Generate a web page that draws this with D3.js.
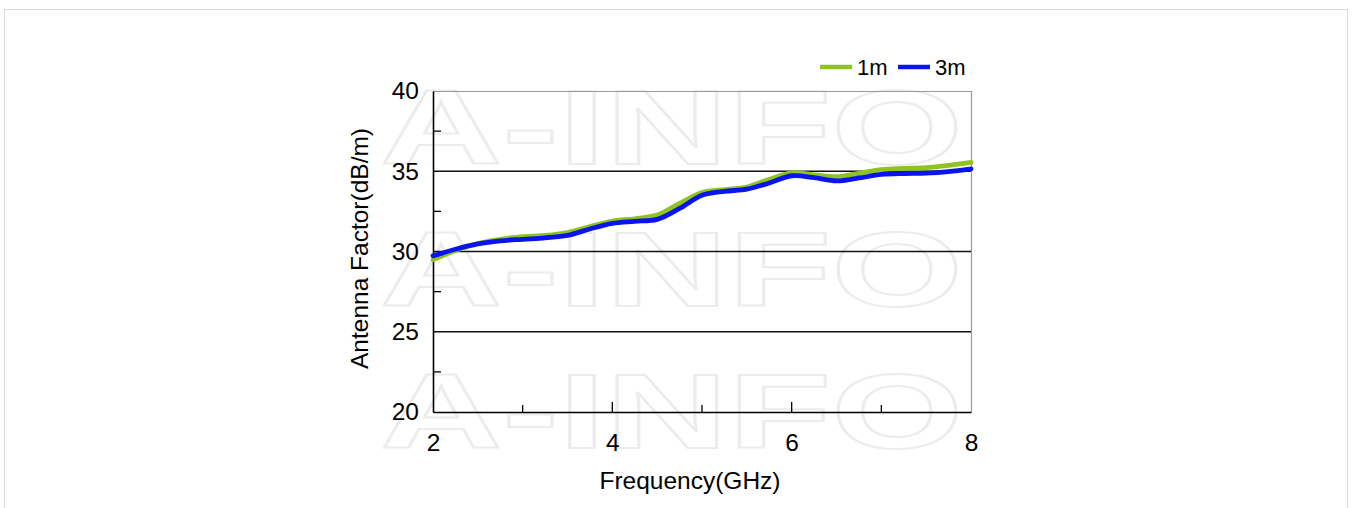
<!DOCTYPE html>
<html>
<head>
<meta charset="utf-8">
<script src="https://cdn.jsdelivr.net/npm/d3@7/dist/d3.min.js"></script>
<style>
  html, body { margin: 0; padding: 0; background: #fff; }
  svg { display: block; font-family: "Liberation Sans", Arial, sans-serif; }
</style>
</head>
<body>
<svg id="chart" width="1353" height="508"></svg>
<script>
// ---- data ----
const freq = [2, 2.25, 2.5, 2.75, 3, 3.25, 3.5, 3.75, 4, 4.25, 4.5, 4.75, 5, 5.25, 5.5, 5.75, 6, 6.25, 6.5, 6.75, 7, 7.25, 7.5, 7.75, 8];
const af1m = [29.48, 30.06, 30.5, 30.76, 30.93, 31.0, 31.18, 31.55, 31.9, 32.04, 32.27, 32.99, 33.67, 33.86, 34.02, 34.5, 34.9, 34.78, 34.66, 34.87, 35.1, 35.18, 35.22, 35.36, 35.55];
const af3m = [29.73, 30.14, 30.47, 30.66, 30.76, 30.85, 31.0, 31.4, 31.75, 31.88, 32.0, 32.68, 33.5, 33.75, 33.88, 34.27, 34.72, 34.6, 34.4, 34.58, 34.8, 34.86, 34.88, 34.98, 35.15];
const seriesNames = ["1m", "3m"];
const seriesColors = ["#8fc31f", "#0a14f0"];
const xTicks = [2, 4, 6, 8];
const xMinor = [3, 5, 7];
const yTicks = [20, 25, 30, 35, 40];
const yMinor = [22.5, 27.5, 32.5, 37.5];
const watermark = "A-INFO";

const svg = d3.select("#chart");
const FS = 24.5;

// outer frame
svg.append("rect").attr("x", 4.5).attr("y", 9.5).attr("width", 1343).attr("height", 510)
  .attr("fill", "none").attr("stroke", "#d9d9d9").attr("stroke-width", 1);

const L = 433, R = 971, T = 91, B = 412;
const x = d3.scaleLinear().domain([2, 8]).range([L, R]);
const y = d3.scaleLinear().domain([20, 40]).range([B, T]);

// watermark
[88, 230, 372].forEach(top => {
  svg.append("text")
    .attr("x", 380).attr("y", top + 76)
    .attr("font-family", "Liberation Sans, Arial, sans-serif")
    .attr("font-weight", "bold")
    .attr("font-size", 106)
    .attr("textLength", 583).attr("lengthAdjust", "spacingAndGlyphs")
    .attr("fill", "none").attr("stroke", "#ececec").attr("stroke-width", 2)
    .text(watermark);
});

// plot frame top/right (gray)
svg.append("line").attr("x1", L).attr("x2", R).attr("y1", T + 0.5).attr("y2", T + 0.5).attr("stroke", "#9a9a9a").attr("stroke-width", 1.2);
svg.append("line").attr("x1", R + 0.5).attr("x2", R + 0.5).attr("y1", T).attr("y2", B).attr("stroke", "#9a9a9a").attr("stroke-width", 1.2);

// gridlines
svg.append("g").selectAll("line").data(yTicks.filter(v => v > 20 && v < 40)).join("line")
  .attr("x1", L).attr("x2", R).attr("y1", d => y(d)).attr("y2", d => y(d))
  .attr("stroke", "#111").attr("stroke-width", 1.3);

// y axis
const yAxis = d3.axisLeft(y).tickValues(yTicks).tickFormat(d3.format("d")).tickSize(0).tickPadding(14);
const gy = svg.append("g").attr("transform", `translate(${L},0)`).call(yAxis);
gy.select(".domain").attr("stroke", "#000").attr("stroke-width", 1.6);
gy.selectAll("text").attr("font-size", FS).attr("fill", "#000").attr("font-family", "Liberation Sans, Arial, sans-serif");
svg.append("g").selectAll("line").data(yMinor).join("line")
  .attr("x1", L).attr("x2", L + 8).attr("y1", d => y(d)).attr("y2", d => y(d))
  .attr("stroke", "#000").attr("stroke-width", 1.3);

// x axis
const xAxis = d3.axisBottom(x).tickValues(xTicks).tickFormat(d3.format("d")).tickSize(0).tickPadding(22);
const gx = svg.append("g").attr("transform", `translate(0,${B})`).call(xAxis);
gx.select(".domain").attr("stroke", "#000").attr("stroke-width", 1.6);
gx.selectAll("text").attr("font-size", FS).attr("fill", "#000").attr("font-family", "Liberation Sans, Arial, sans-serif");
svg.append("g").selectAll("line").data(xTicks.filter(v => v > 2 && v < 8)).join("line")
  .attr("x1", d => x(d)).attr("x2", d => x(d)).attr("y1", B).attr("y2", B - 10)
  .attr("stroke", "#000").attr("stroke-width", 1.3);
svg.append("g").selectAll("line").data(xMinor).join("line")
  .attr("x1", d => x(d)).attr("x2", d => x(d)).attr("y1", B).attr("y2", B - 7)
  .attr("stroke", "#000").attr("stroke-width", 1.3);

// axis titles
svg.append("text").attr("x", 690).attr("y", 489).attr("text-anchor", "middle")
  .attr("font-size", FS).attr("fill", "#000").text("Frequency(GHz)");
svg.append("text").attr("transform", `translate(368,${(T + B) / 2 - 3}) rotate(-90)`).attr("text-anchor", "middle")
  .attr("font-size", FS).attr("fill", "#000").text("Antenna Factor(dB/m)");

// lines
const series = [af1m, af3m];
const line = d3.line().x((d, i) => x(freq[i])).y(d => y(d)).curve(d3.curveCatmullRom.alpha(0.5));
series.forEach((vals, k) => {
  svg.append("path").datum(vals).attr("d", line)
    .attr("fill", "none").attr("stroke", seriesColors[k]).attr("stroke-width", 4.8)
    .attr("stroke-linecap", "round");
});

// legend
const legendX = [820, 898];
seriesNames.forEach((n, k) => {
  svg.append("line").attr("x1", legendX[k]).attr("x2", legendX[k] + 32).attr("y1", 67).attr("y2", 67)
    .attr("stroke", seriesColors[k]).attr("stroke-width", 4.5);
  svg.append("text").attr("x", legendX[k] + 37).attr("y", 74.5).attr("font-size", 22).attr("fill", "#000").text(n);
});
</script>
</body>
</html>
